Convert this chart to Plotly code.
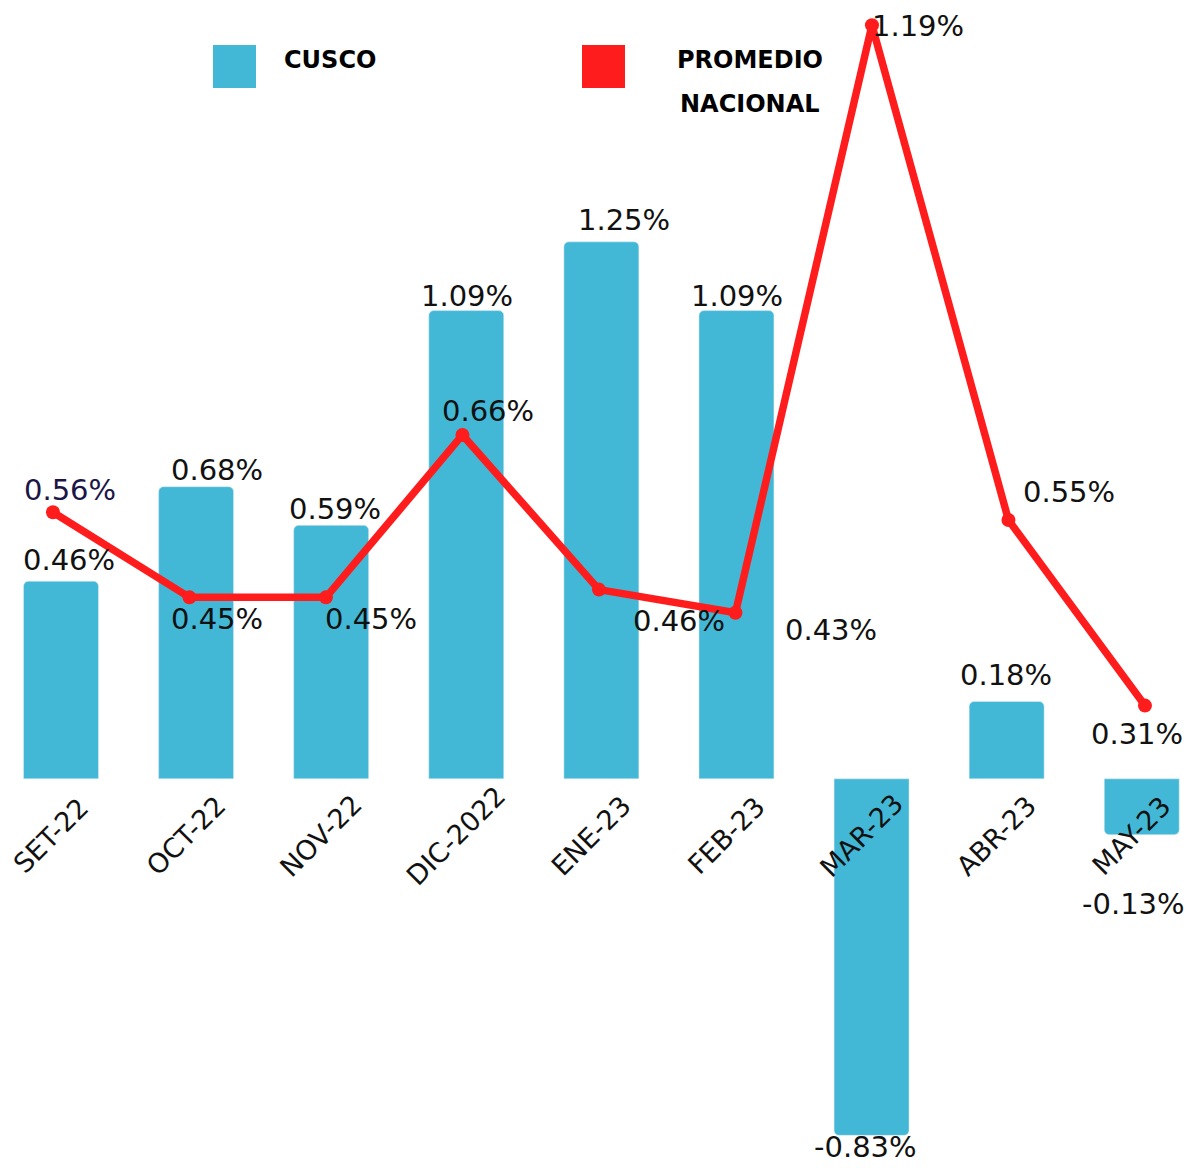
import plotly.graph_objects as go

# datos
meses = ["SET-22", "OCT-22", "NOV-22", "DIC-2022", "ENE-23", "FEB-23", "MAR-23", "ABR-23", "MAY-23"]
cusco = [0.46, 0.68, 0.59, 1.09, 1.25, 1.09, -0.83, 0.18, -0.13]
nacional = [0.56, 0.45, 0.45, 0.66, 0.46, 0.43, 1.19, 0.55, 0.31]

W, H = 1187, 1168
AZUL = "#42B8D6"
ROJO = "#FF1C1C"
FUENTE = "DejaVu Sans"

# desplazamientos de etiquetas (px)
off_cusco = [(8, 21), (21, 17), (4, 16), (1, 15), (23, 22), (1, 15), (-6, -12), (-1, 26), (-8, -69)]
off_nac = [(17, 22), (28, -22), (45, -22), (26, 24), (80, -31), (96, -17), (46, -1), (61, 28), (-8, -28)]

fig = go.Figure()
fig.add_trace(go.Bar(
    x=meses, y=cusco, name="CUSCO",
    marker=dict(color=AZUL, cornerradius=5),
    width=0.555, xaxis="x", yaxis="y",
))
fig.add_trace(go.Scatter(
    x=meses, y=nacional, name="PROMEDIO NACIONAL",
    mode="lines+markers",
    line=dict(color=ROJO, width=7.5),
    marker=dict(color=ROJO, size=14),
    xaxis="x2", yaxis="y2",
))

anns = []
for m, v, (dx, dy) in zip(meses, cusco, off_cusco):
    anns.append(dict(x=m, y=v, xref="x", yref="y", text=f"{v:.2f}%", showarrow=False,
                     xshift=dx, yshift=dy, font=dict(size=29, color="#111111")))
for i, (m, v, (dx, dy)) in enumerate(zip(meses, nacional, off_nac)):
    anns.append(dict(x=m, y=v, xref="x2", yref="y2", text=f"{v:.2f}%", showarrow=False,
                     xshift=dx, yshift=dy,
                     font=dict(size=29, color="#1B1548" if i == 0 else "#111111")))
# etiquetas del eje
for m in meses:
    anns.append(dict(x=m, y=0, xref="x", yref="y", text=m, showarrow=False, textangle=-45,
                     xshift=-10, yshift=-57, font=dict(size=27, color="#111111")))

# leyenda
def px(x, y):
    return x / W, 1 - y / H

shapes = []
for x0, col in [(213, AZUL), (582, ROJO)]:
    a, b = px(x0, 45)
    c, d = px(x0 + 43, 88)
    shapes.append(dict(type="rect", xref="paper", yref="paper", x0=a, y0=d, x1=c, y1=b,
                       fillcolor=col, line=dict(width=0)))
for txt, x, y in [("CUSCO", 330, 60), ("PROMEDIO", 750, 60), ("NACIONAL", 750, 104)]:
    a, b = px(x, y)
    anns.append(dict(x=a, y=b, xref="paper", yref="paper", text=f"<b>{txt}</b>", showarrow=False,
                     xanchor="center", yanchor="middle",
                     font=dict(size=24, color="#000000")))

fig.update_layout(
    width=W, height=H,
    margin=dict(l=0, r=0, t=0, b=0),
    plot_bgcolor="white", paper_bgcolor="white",
    font=dict(family=FUENTE),
    showlegend=False,
    annotations=anns, shapes=shapes,
    xaxis=dict(range=[-0.4515, 8.335], visible=False),
    xaxis2=dict(range=[-0.388, 8.308], overlaying="x", visible=False),
    yaxis=dict(range=[-0.906, 1.813], visible=False),
    yaxis2=dict(range=[-0.288, 1.2225], overlaying="y", visible=False),
)

fig.write_html("out.html", config={"displayModeBar": False},
               post_script="document.body.style.margin='0';")
